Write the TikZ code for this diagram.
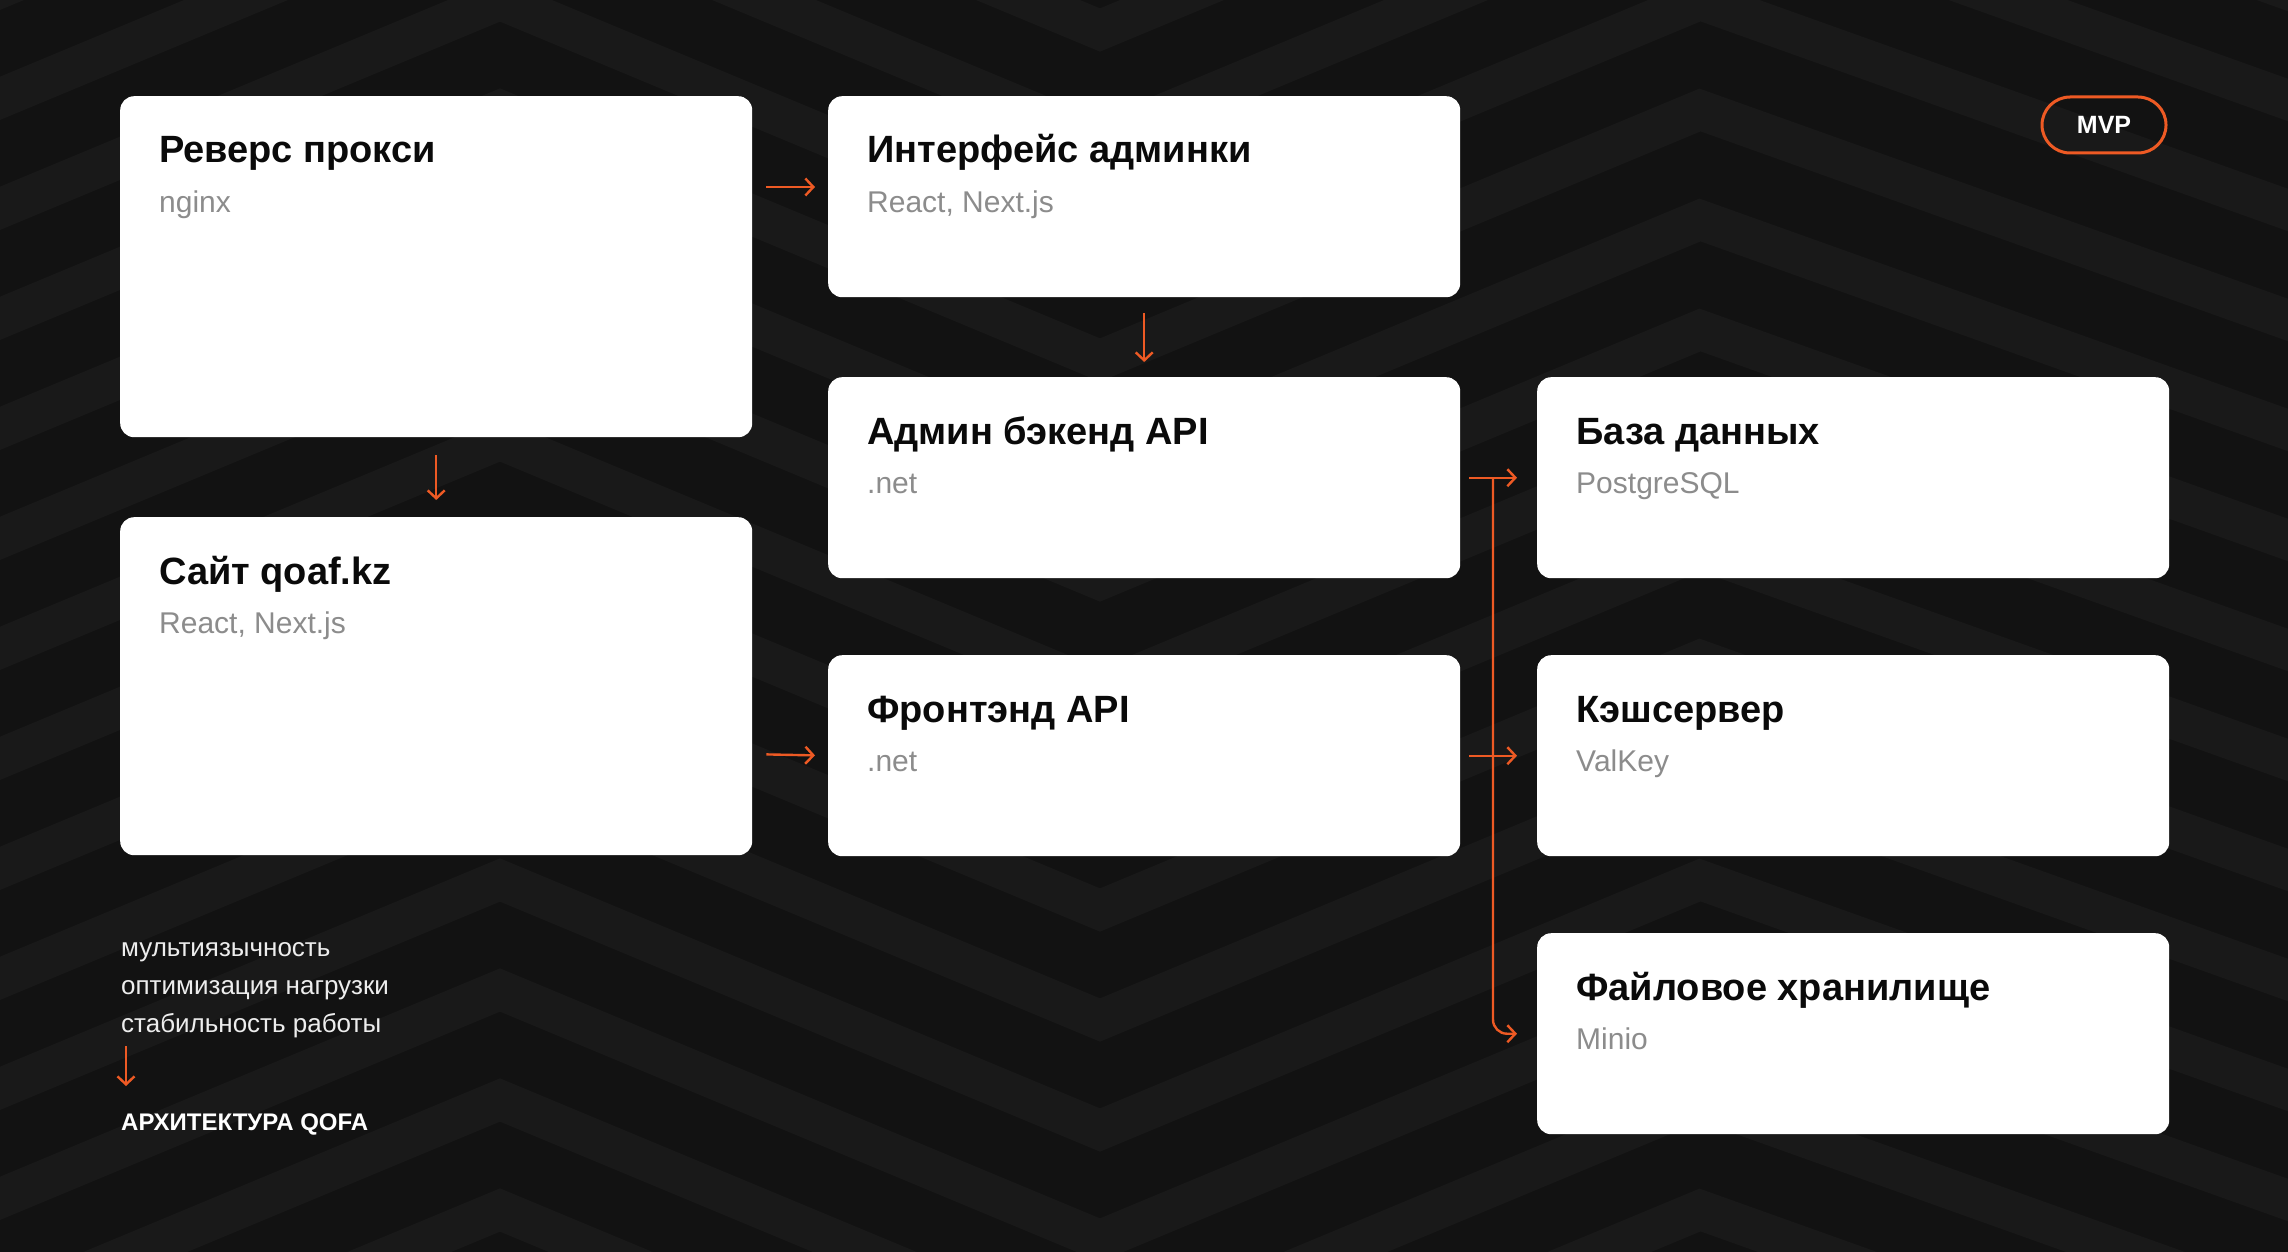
\documentclass[tikz,border=0pt]{standalone}
\usepackage{fontspec}
\setmainfont{Liberation Sans}
\usetikzlibrary{arrows.meta,calc}
\definecolor{bg}{HTML}{121212}
\definecolor{stripe}{HTML}{191919}
\definecolor{accent}{HTML}{EE5A24}
\definecolor{subgray}{HTML}{8C8C8C}
\definecolor{ink}{HTML}{0A0A0A}
\definecolor{lightink}{HTML}{EDEDED}
\begin{document}
\begin{tikzpicture}[x=1pt,y=-1pt,
 card/.style={fill=white, rounded corners=14pt, draw=none, minimum width=632pt, minimum height=201pt, anchor=north west, inner sep=0pt},
 ttl/.style={anchor=base west, inner sep=0pt, text=ink, font=\fontsize{38}{44}\selectfont\bfseries},
 sub/.style={anchor=base west, inner sep=0pt, text=subgray, font=\fontsize{30}{36}\selectfont},
 arr/.style={draw=accent, line width=2.4pt, -{Straight Barb[length=8pt,width=17pt,line width=2.4pt]}},
 note/.style={anchor=base west, inner sep=0pt, text=lightink, font=\fontsize{26}{30}\selectfont},
]
\useasboundingbox (0,0) rectangle (2288,1252);
\fill[bg] (0,0) rectangle (2288,1252);
\begin{scope}
\clip (0,0) rectangle (2288,1252);
\foreach \k in {-6,...,16}{
  \draw[stripe, line width=40pt] (-100,\k*110+250) -- (500,\k*110) -- (1100,\k*110+250) -- (1700,\k*110) -- (2400,\k*110+250);
}
\end{scope}

% cards
\node[card] (proxy) at (120,96) [minimum height=341pt] {};
\node[card] (site)  at (120,517) [minimum height=338pt] {};
\node[card] (iface) at (828,96) {};
\node[card] (admin) at (828,377) {};
\node[card] (front) at (828,655) {};
\node[card] (base)  at (1537,377) {};
\node[card] (cache) at (1537,655) {};
\node[card] (file)  at (1537,933) {};

\node[ttl] (t1) at ($(proxy.north west)+(39,67)$) {Реверс прокси};
\node[sub] (s1) at ($(proxy.north west)+(39,116)$) {nginx};
\node[ttl] (t2) at ($(site.north west)+(39,67)$) {Сайт qoaf.kz};
\node[sub] (s2) at ($(site.north west)+(39,116)$) {React, Next.js};
\node[ttl] (t3) at ($(iface.north west)+(39,67)$) {Интерфейс админки};
\node[sub] (s3) at ($(iface.north west)+(39,116)$) {React, Next.js};
\node[ttl] (t4) at ($(admin.north west)+(39,67)$) {Админ бэкенд API};
\node[sub] (s4) at ($(admin.north west)+(39,116)$) {.net};
\node[ttl] (t5) at ($(front.north west)+(39,67)$) {Фронтэнд API};
\node[sub] (s5) at ($(front.north west)+(39,116)$) {.net};
\node[ttl] (t6) at ($(base.north west)+(39,67)$) {База данных};
\node[sub] (s6) at ($(base.north west)+(39,116)$) {PostgreSQL};
\node[ttl] (t7) at ($(cache.north west)+(39,67)$) {Кэшсервер};
\node[sub] (s7) at ($(cache.north west)+(39,116)$) {ValKey};
\node[ttl] (t8) at ($(file.north west)+(39,67)$) {Файловое хранилище};
\node[sub] (s8) at ($(file.north west)+(39,116)$) {Minio};

% MVP badge
\node[draw=accent, line width=3pt, rounded corners=28pt, minimum width=124pt, minimum height=56pt, inner sep=0pt, text=white, font=\fontsize{25}{30}\selectfont\bfseries] (mvp) at (2104,125) {MVP};

% connectors
\draw[arr] ($(proxy.north east)+(14,91)$) -- ($(iface.north west)+(-13,91)$);
\draw[arr] ($(proxy.south)+(0,18)$) -- ($(site.north)+(0,-17)$);
\draw[arr] ($(iface.south)+(0,16)$) -- ($(admin.north)+(0,-15)$);
\draw[arr] ($(site.south east)+(14,-101)$) -- ($(front.south west)+(-13,-101)$);
\draw[arr, shorten <=9pt] (admin.east) -- ($(base.west)+(-20,0)$);
\draw[arr, shorten <=9pt] (front.east) -- ($(cache.west)+(-20,0)$);
\coordinate (bus) at (1493,0);
\draw[arr, rounded corners=14pt] (bus |- admin.east) -- (bus |- file.west) -- ($(file.west)+(-20,0)$);

% notes
\node[note] (n1) at (121,956) {мультиязычность};
\node[note] (n2) at (121,994) {оптимизация нагрузки};
\node[note] (n3) at (121,1032) {стабильность работы};
\node[note, font=\fontsize{24}{30}\selectfont\bfseries, text=white] (hdr) at (121,1130) {АРХИТЕКТУРА QOFA};
\draw[arr] ($(n3.base west)+(5,14)$) -- ($(n3.base west)+(5,54)$);
\end{tikzpicture}
\end{document}
